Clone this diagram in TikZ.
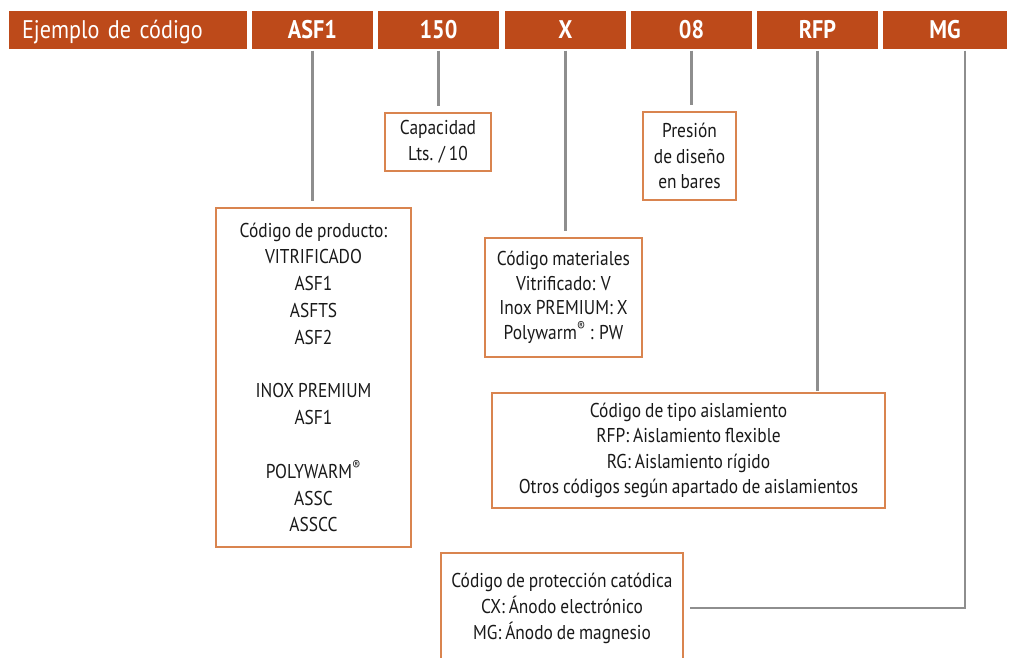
\documentclass[tikz,border=0pt]{standalone}
\usepackage{fontspec}
\usetikzlibrary{calc}
\setmainfont{PT Sans}[FakeStretch=0.87, WordSpace=0.85]
\definecolor{hdrc}{HTML}{BD4A1A}
\definecolor{boxc}{HTML}{D9844F}
\definecolor{linec}{HTML}{8E8E8E}
\tikzset{
  hdrcell/.style={fill=hdrc, text=white, minimum height=38pt, inner sep=0pt, text height=18pt, text depth=1pt, font=\fontsize{25.5}{28}\selectfont\bfseries},
  infobox/.style={draw=boxc, line width=2.6pt, inner sep=0pt, align=center, font=\fontsize{20}{25.5}\selectfont, text=black!90},
  conn/.style={draw=linec, line width=2.5pt, shorten <=2pt, shorten >=6pt}
}
\begin{document}
\begin{tikzpicture}[x=1pt,y=-1pt]
\useasboundingbox (0,0) rectangle (1013,657);
\clip (0,0) rectangle (1013,657);
% header
\node[hdrcell, minimum width=238pt, text width=212pt, align=left, font=\fontsize{25.5}{28}\selectfont] (h0) at (128,29.5) {Ejemplo de código};
\node[hdrcell, minimum width=121pt] (h1) at (312.5,29.5) {ASF1};
\node[hdrcell, minimum width=121pt] (h2) at (438.5,29.5) {150};
\node[hdrcell, minimum width=121pt] (h3) at (565.5,29.5) {X};
\node[hdrcell, minimum width=121pt] (h4) at (691.5,29.5) {08};
\node[hdrcell, minimum width=121pt] (h5) at (817.5,29.5) {RFP};
\node[hdrcell, minimum width=124pt] (h6) at (945,29.5) {MG};
% boxes
\node[infobox, minimum width=106pt, minimum height=58pt] (cap) at (438,142) {Capacidad\\Lts. / 10};
\node[infobox, minimum width=93pt, minimum height=88pt] (pres) at (689.5,156) {Presión\\de diseño\\en bares};
\node[infobox, minimum width=195pt, minimum height=339pt, font=\fontsize{20}{26.8}\selectfont] (prod) at (313.5,377.5) {Código de producto:\\VITRIFICADO\\ASF1\\ASFTS\\ASF2\\[26.8pt]INOX PREMIUM\\ASF1\\[26.8pt]POLYWARM\textsuperscript{®}\\ASSC\\ASSCC};
\node[infobox, minimum width=157pt, minimum height=119pt, font=\fontsize{20}{24.5}\selectfont] (mat) at (563.5,297.5) {Código materiales\\Vitrificado: V\\Inox PREMIUM: X\\Polywarm\textsuperscript{®} : PW};
\node[infobox, minimum width=393pt, minimum height=115pt] (ais) at (688.5,450.5) {Código de tipo aislamiento\\RFP: Aislamiento flexible\\RG: Aislamiento rígido\\Otros códigos según apartado de aislamientos};
\node[infobox, minimum width=242pt, minimum height=110pt, font=\fontsize{20}{26}\selectfont] (prot) at (562,608) {Código de protección catódica\\CX: Ánodo electrónico\\MG: Ánodo de magnesio};
% connectors
\coordinate (mgx) at ($(h6.south)+(20,0)$);
\draw[conn] (h1.south) -- (h1.south |- prod.north);
\draw[conn] (h2.south) -- (h2.south |- cap.north);
\draw[conn] (h3.south) -- (h3.south |- mat.north);
\draw[conn] (h4.south) -- (h4.south |- pres.north);
\draw[conn, shorten >=1pt] (h5.south) -- (h5.south |- ais.north);
\draw[conn] (mgx) |- (prot.east);
\end{tikzpicture}
\end{document}
